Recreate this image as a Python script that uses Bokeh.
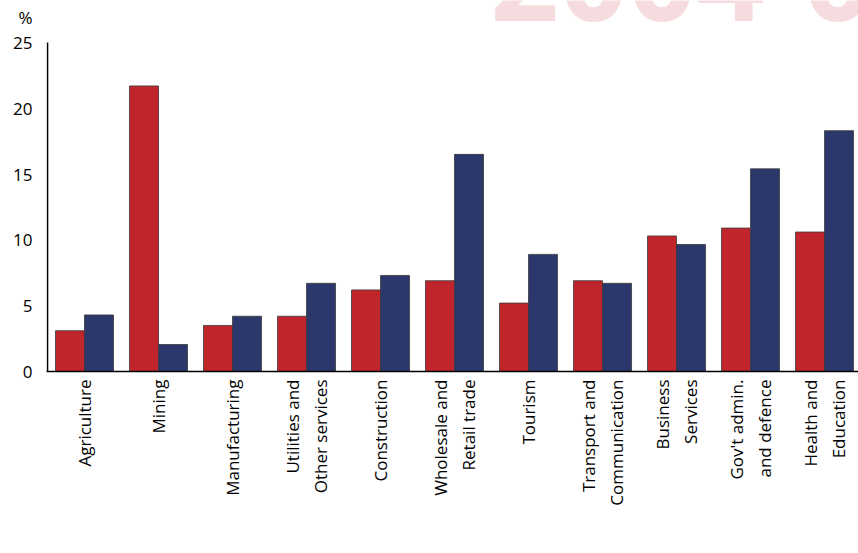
import math
import numpy as np
from bokeh.plotting import figure
from bokeh.models import (Range1d, FixedTicker, Label, Legend, LegendItem)
from bokeh.embed import file_html
from bokeh.resources import INLINE

# ---- data ----
categories = ["Agriculture", "Mining", "Manufacturing", "Utilities and\nOther services",
              "Construction", "Wholesale and\nRetail trade", "Tourism",
              "Transport and\nCommunication", "Business\nServices",
              "Gov't admin.\nand defence", "Health and\nEducation"]
gsp = [3.1, 21.7, 3.5, 4.2, 6.2, 6.9, 5.2, 6.9, 10.3, 10.9, 10.6]
employment = [4.3, 2.05, 4.2, 6.7, 7.3, 16.5, 8.9, 6.7, 9.65, 15.4, 18.3]
y_ticks = [0, 5, 10, 15, 20, 25]
series_names = ["GSP", "Employment"]
watermark = "2004-05"
unit_label = "%"

RED = "#C1252C"
BLUE = "#2C376C"
OUT = "#3a3a3a"
FONT = "Open Sans"

PX = 329 / 25.0          # pixels per unit of y
Y_TOP = 371 / PX         # frame reaches canvas top

idx = np.arange(len(categories))
bar_w = 0.392
gsp_x = idx + 0.304
emp_x = idx + 0.696

p = figure(frame_width=812, frame_height=371, output_backend="svg",
           toolbar_location=None,
           x_range=Range1d(-1 / 74, 10.959), y_range=Range1d(0, Y_TOP),
           min_border_left=46, min_border_right=0, min_border_top=0,
           min_border_bottom=182)
p.outline_line_color = None
p.grid.visible = False
p.background_fill_color = "white"
p.border_fill_color = "white"

# watermark (inside frame, top)
p.add_layout(Label(x=(490 - 47) / 74.0, y=(371 + 23) / PX, text=watermark,
                   text_font=FONT, text_font_style="bold",
                   text_font_size="120px", text_color="#F6DCDE",
                   text_baseline="alphabetic", level="underlay"))

r1 = p.vbar(x=gsp_x, top=gsp, width=bar_w, bottom=0, fill_color=RED,
            line_color=OUT, line_width=0.8)
r2 = p.vbar(x=emp_x, top=employment, width=bar_w, bottom=0, fill_color=BLUE,
            line_color=OUT, line_width=0.8)

# visible y axis line from 0 to top tick
p.segment(x0=[0], y0=[y_ticks[0]], x1=[0], y1=[y_ticks[-1]], line_color="black",
          line_width=1.6)

# y axis (labels only, plus the unit sign as an extra label)
unit_pos = round((371 - 17) / PX, 3)
p.yaxis.ticker = FixedTicker(ticks=y_ticks + [unit_pos])
p.yaxis.major_label_overrides = {unit_pos: unit_label}
p.yaxis.axis_line_color = None
p.yaxis.major_tick_line_color = None
p.yaxis.minor_tick_line_color = None
p.yaxis.major_tick_out = 0
p.yaxis.major_tick_in = 0
p.yaxis.major_label_text_font = FONT
p.yaxis.major_label_text_font_size = "17px"
p.yaxis.major_label_text_color = "black"
p.yaxis.major_label_standoff = 14

# x axis: one tick per label line
lx, ltxt = [], []
for i, c in enumerate(categories):
    lines = c.split("\n")
    n = len(lines)
    for j, t in enumerate(lines):
        lx.append(round(i + 0.5 + (j - (n - 1) / 2) * 0.38, 4))
        ltxt.append(t)
p.xaxis.ticker = FixedTicker(ticks=lx)
p.xaxis.major_label_overrides = {x: t for x, t in zip(lx, ltxt)}
p.xaxis.major_label_orientation = math.pi / 2
p.xaxis.major_tick_line_color = None
p.xaxis.minor_tick_line_color = None
p.xaxis.major_tick_out = 0
p.xaxis.major_tick_in = 0
p.xaxis.major_label_text_font = FONT
p.xaxis.major_label_text_font_size = "17px"
p.xaxis.major_label_text_color = "black"
p.xaxis.major_label_standoff = 8
p.xaxis.axis_line_color = "black"
p.xaxis.axis_line_width = 1.6

legend = Legend(items=[LegendItem(label=series_names[0], renderers=[r1]),
                       LegendItem(label=series_names[1], renderers=[r2])],
                orientation="horizontal", location=(304, 0),
                glyph_width=22, glyph_height=22, label_standoff=11, spacing=40,
                padding=0, margin=0, border_line_color=None,
                background_fill_alpha=0, label_text_font=FONT,
                label_text_font_size="18px", label_height=22)
p.add_layout(legend, "below")

open("out.html", "w").write(file_html(p, INLINE))
